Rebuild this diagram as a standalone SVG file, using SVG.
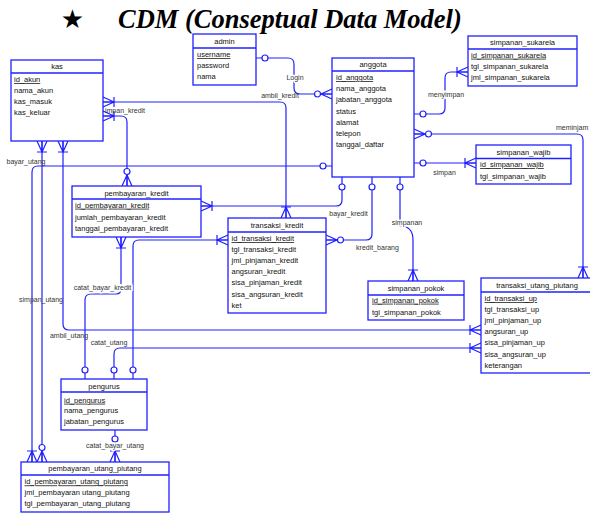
<svg xmlns="http://www.w3.org/2000/svg" xmlns:xlink="http://www.w3.org/1999/xlink" width="590" height="513" viewBox="0 0 590 513">
<style>
.ent rect{fill:#fff;stroke:#2020ff;stroke-width:1.3}
.ent line{stroke:#2020ff;stroke-width:1.3}
.ent text{font-family:"Liberation Sans",Arial,sans-serif;font-size:7.5px;fill:#111}
.ent .t{text-anchor:middle}
.ent .pk{text-decoration:underline}
.cn{fill:none;stroke:#2020ff;stroke-width:1.2}
.sym{fill:none;stroke:#2020ff;stroke-width:1.2}
.o{fill:#fff;stroke:#2020ff;stroke-width:1.2}
.lbl{font-family:"Liberation Sans",Arial,sans-serif;font-size:7px;fill:#333;text-anchor:middle}
.bg{stroke:#fff;stroke-width:3;paint-order:stroke}
</style>
<defs>
<g id="cfb"><path class="sym" d="M0,-5 L11,0 L0,5 M0,0 H11 M11,-5 V5"/></g>
<g id="cfc"><path class="sym" d="M0,-5 L11,0 L0,5 M0,0 H11"/><circle class="o" cx="14.5" cy="0" r="3"/></g>
</defs>
<rect width="590" height="513" fill="#fff"/>
<g id="title">
<text x="72.5" y="28" font-family="DejaVu Sans,sans-serif" font-size="26" text-anchor="middle" fill="#000">★</text>
<text x="118" y="28" font-family="Liberation Serif,'Times New Roman',serif" font-size="26.5" font-weight="bold" font-style="italic" fill="#000">CDM (Conseptual Data Model)</text>
</g>
<g id="connectors">
<path class="cn" d="M256,58 H288 Q294,58 294,64 V88 Q294,94 300,94 H332"/>
<path class="cn" d="M103,102 H280 Q286,102 286,108 V218"/>
<path class="cn" d="M103,116 H121 Q127,116 127,122 V186"/>
<path class="cn" d="M332,166 H38 Q32,166 32,172 V462"/>
<path class="cn" d="M42,141 V462"/>
<path class="cn" d="M63,141 V324 Q63,330 69,330 H481"/>
<path class="cn" d="M201,206 H336 Q342,206 342,200 V177"/>
<path class="cn" d="M121,237 V289 Q121,294 116,294 H91 Q85,294 85,300 V379"/>
<path class="cn" d="M228,240 H139 Q133,240 133,246 V379"/>
<path class="cn" d="M326,240 H366 Q372,240 372,234 V177"/>
<path class="cn" d="M400,177 V226 Q413,226 413,240 V281"/>
<path class="cn" d="M414,114 H439 Q445,114 445,108 V78 Q445,72 451,72 H468"/>
<path class="cn" d="M414,134 H577 Q583,134 583,140 V278"/>
<path class="cn" d="M414,163 H476"/>
<path class="cn" d="M114,379 V354 Q114,348 120,348 H481"/>
<path class="cn" d="M115,430 V462"/>
<use xlink:href="#cfb" transform="translate(103,102)"/>
<use xlink:href="#cfb" transform="translate(286,218) rotate(-90)"/>
<use xlink:href="#cfb" transform="translate(103,116)"/>
<use xlink:href="#cfc" transform="translate(127,186) rotate(-90)"/>
<use xlink:href="#cfb" transform="translate(32,462) rotate(-90)"/>
<use xlink:href="#cfb" transform="translate(42,141) rotate(90)"/>
<use xlink:href="#cfc" transform="translate(42,462) rotate(-90)"/>
<use xlink:href="#cfb" transform="translate(63,141) rotate(90)"/>
<use xlink:href="#cfb" transform="translate(481,330) rotate(180)"/>
<use xlink:href="#cfb" transform="translate(201,206)"/>
<use xlink:href="#cfb" transform="translate(121,237) rotate(90)"/>
<use xlink:href="#cfb" transform="translate(228,240) rotate(180)"/>
<use xlink:href="#cfc" transform="translate(326,240)"/>
<use xlink:href="#cfb" transform="translate(413,281) rotate(-90)"/>
<use xlink:href="#cfb" transform="translate(468,72) rotate(180)"/>
<use xlink:href="#cfc" transform="translate(414,134)"/>
<use xlink:href="#cfb" transform="translate(583,278) rotate(-90)"/>
<use xlink:href="#cfb" transform="translate(476,163) rotate(180)"/>
<use xlink:href="#cfb" transform="translate(481,348) rotate(180)"/>
<use xlink:href="#cfb" transform="translate(115,462) rotate(-90)"/>
<use xlink:href="#cfc" transform="translate(332,94) rotate(180)"/>
<circle class="o" cx="265" cy="58" r="3"/>
<circle class="o" cx="323" cy="166" r="3"/>
<circle class="o" cx="342" cy="187" r="3"/>
<circle class="o" cx="85" cy="370" r="3"/>
<circle class="o" cx="133" cy="370" r="3"/>
<circle class="o" cx="372" cy="187" r="3"/>
<circle class="o" cx="400" cy="187" r="3"/>
<circle class="o" cx="423" cy="114" r="3"/>
<circle class="o" cx="423" cy="163" r="3"/>
<circle class="o" cx="114" cy="370" r="3"/>
<circle class="o" cx="115" cy="439" r="3"/>
<text class="lbl bg" x="295" y="79.5">Login</text>
<text class="lbl" x="280" y="98">ambil_kredit</text>
<text class="lbl" x="125" y="112.5">impan_kredit</text>
<text class="lbl" x="26" y="163.5">bayar_utang</text>
<text class="lbl bg" x="446" y="96.5">menyimpan</text>
<text class="lbl" x="556" y="129.5" style="text-anchor:start">meminjam</text>
<text class="lbl" x="444.5" y="174.5">simpan</text>
<text class="lbl" x="348.5" y="215.5">bayar_kredit</text>
<text class="lbl bg" x="407" y="224.5">simpanan</text>
<text class="lbl" x="377.5" y="249.5">kredit_barang</text>
<text class="lbl bg" x="102.5" y="289.5">catat_bayar_kredit</text>
<text class="lbl" x="41" y="301.5">simpan_utang</text>
<text class="lbl" x="69" y="338">ambil_utang</text>
<text class="lbl" x="109" y="344.5">catat_utang</text>
<text class="lbl bg" x="115" y="447.5">catat_bayar_utang</text>
</g>
<g id="admin" class="ent">
<rect x="193" y="34" width="63" height="51"/><line x1="193" y1="48" x2="256" y2="48"/>
<text class="t" x="224.5" y="44">admin</text>
<text class="pk" x="197" y="57">username</text>
<text x="197" y="68">password</text>
<text x="197" y="79">nama</text>
</g>
<g id="kas" class="ent">
<rect x="11" y="60" width="92" height="81"/><line x1="11" y1="73" x2="103" y2="73"/>
<text class="t" x="57" y="69">kas</text>
<text class="pk" x="14" y="82">id_akun</text>
<text x="14" y="93">nama_akun</text>
<text x="14" y="104">kas_masuk</text>
<text x="14" y="115">kas_keluar</text>
</g>
<g id="anggota" class="ent">
<rect x="332" y="58" width="82" height="119"/><line x1="332" y1="71" x2="414" y2="71"/>
<text class="t" x="373" y="67">anggota</text>
<text class="pk" x="336" y="80">id_anggota</text>
<text x="336" y="91.2">nama_anggota</text>
<text x="336" y="102.4">jabatan_anggota</text>
<text x="336" y="113.6">status</text>
<text x="336" y="124.8">alamat</text>
<text x="336" y="136">telepon</text>
<text x="336" y="147.2">tanggal_daftar</text>
</g>
<g id="simpanan_sukarela" class="ent">
<rect x="468" y="36" width="109" height="50"/><line x1="468" y1="49" x2="577" y2="49"/>
<text class="t" x="522.5" y="45">simpanan_sukarela</text>
<text class="pk" x="471" y="57.7">id_simpanan_sukarela</text>
<text x="471" y="68.7">tgl_simpanan_sukarela</text>
<text x="471" y="80">jml_simpanan_sukarela</text>
</g>
<g id="simpanan_wajib" class="ent">
<rect x="476" y="145" width="95" height="39"/><line x1="476" y1="158.5" x2="571" y2="158.5"/>
<text class="t" x="523.5" y="154.8">simpanan_wajib</text>
<text class="pk" x="480" y="167">id_simpanan_wajib</text>
<text x="480" y="179.4">tgl_simpanan_wajib</text>
</g>
<g id="pembayaran_kredit" class="ent">
<rect x="72" y="186" width="129" height="51"/><line x1="72" y1="199" x2="201" y2="199"/>
<text class="t" x="136.5" y="196">pembayaran_kredit</text>
<text class="pk" x="75" y="207.7">id_pembayaran_kredit</text>
<text x="75" y="220">jumlah_pembayaran_kredit</text>
<text x="75" y="231">tanggal_pembayaran_kredit</text>
</g>
<g id="transaksi_kredit" class="ent">
<rect x="228" y="218" width="98" height="95"/><line x1="228" y1="232" x2="326" y2="232"/>
<text class="t" x="277" y="227.7">transaksi_kredit</text>
<text class="pk" x="231.5" y="241">id_transaksi_kredit</text>
<text x="231.5" y="252">tgl_transaksi_kredit</text>
<text x="231.5" y="263.3">jml_pinjaman_kredit</text>
<text x="231.5" y="273.8">angsuran_kredit</text>
<text x="231.5" y="285">sisa_pinjaman_kredit</text>
<text x="231.5" y="296.5">sisa_angsuran_kredit</text>
<text x="231.5" y="307.7">ket</text>
</g>
<g id="simpanan_pokok" class="ent">
<rect x="368" y="281" width="96" height="39"/><line x1="368" y1="295" x2="464" y2="295"/>
<text class="t" x="416" y="291">simpanan_pokok</text>
<text class="pk" x="372" y="302.7">id_simpanan_pokok</text>
<text x="372" y="315">tgl_simpanan_pokok</text>
</g>
<g id="transaksi_utang_piutang" class="ent">
<rect x="481" y="278" width="113" height="95"/><line x1="481" y1="292" x2="594" y2="292"/>
<text class="t" x="537" y="288.4">transaksi_utang_piutang</text>
<text class="pk" x="484.5" y="301">id_transaksi_up</text>
<text x="484.5" y="312">tgl_transaksi_up</text>
<text x="484.5" y="322.7">jml_pinjaman_up</text>
<text x="484.5" y="333.7">angsuran_up</text>
<text x="484.5" y="345">sisa_pinjaman_up</text>
<text x="484.5" y="356.5">sisa_angsuran_up</text>
<text x="484.5" y="368">keterangan</text>
</g>
<g id="pengurus" class="ent">
<rect x="61" y="379" width="86" height="51"/><line x1="61" y1="392" x2="147" y2="392"/>
<text class="t" x="104" y="389.4">pengurus</text>
<text class="pk" x="64" y="402.7">id_pengurus</text>
<text x="64" y="413">nama_pengurus</text>
<text x="64" y="423.7">jabatan_pengurus</text>
</g>
<g id="pembayaran_utang_piutang" class="ent">
<rect x="21" y="462" width="148" height="50"/><line x1="21" y1="475" x2="169" y2="475"/>
<text class="t" x="95" y="471">pembayaran_utang_piutang</text>
<text class="pk" x="24.5" y="484.4">id_pembayaran_utang_piutang</text>
<text x="24.5" y="495.4">jml_pembayaran utang_piutang</text>
<text x="24.5" y="506">tgl_pembayaran_utang_piutang</text>
</g>
</svg>
